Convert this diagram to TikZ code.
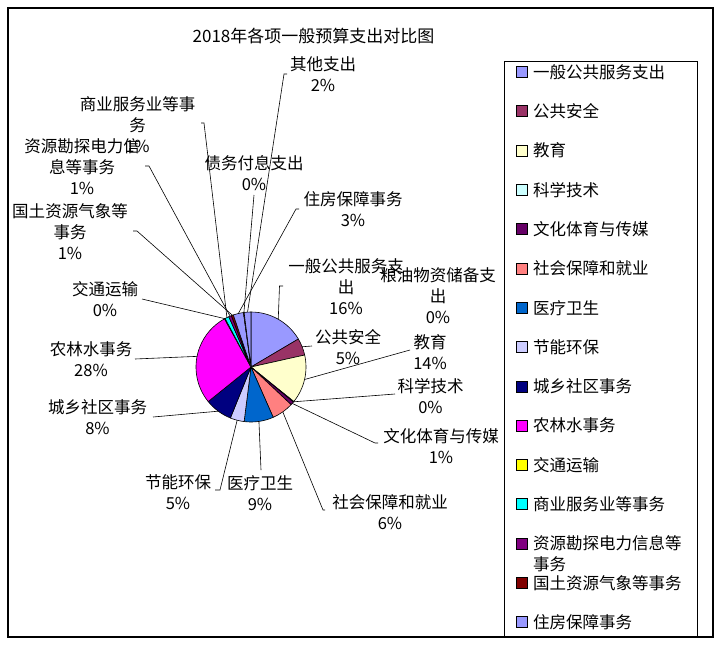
\documentclass[tikz,border=0pt]{standalone}
\usepackage{fontspec}
\setmainfont{Noto Sans CJK SC}
\usepackage{tikz}
\definecolor{lav}{HTML}{9999FF}
\definecolor{plum}{HTML}{993366}
\definecolor{ivory}{HTML}{FFFFCC}
\definecolor{icecyan}{HTML}{CCFFFF}
\definecolor{dkpurple}{HTML}{660066}
\definecolor{salmon}{HTML}{FF8080}
\definecolor{ocean}{HTML}{0066CC}
\definecolor{pale}{HTML}{CCCCFF}
\definecolor{navy}{HTML}{000080}
\definecolor{magenta}{HTML}{FF00FF}
\definecolor{yellow}{HTML}{FFFF00}
\definecolor{aqua}{HTML}{00FFFF}
\definecolor{purple}{HTML}{800080}
\definecolor{maroon}{HTML}{800000}
\tikzset{
  lbl/.style={align=center, inner sep=0pt, font=\fontsize{16.5}{21}\selectfont},
  ttl/.style={inner sep=0pt, font=\fontsize{17}{21}\selectfont},
  key/.style={draw, minimum size=11pt, inner sep=0pt, line width=0.8pt},
  ktext/.style={anchor=west, align=left, inner sep=0pt, font=\fontsize{16.5}{21}\selectfont},
  slice/.style={draw, line width=0.6pt},
  ldr/.style={line width=0.6pt}
}

\begin{document}
\begin{tikzpicture}[x=1pt, y=-1pt]
        \useasboundingbox (0,0) rectangle (722,646);
        \draw[line width=1.5pt] (8,8) rectangle (713,637);
        \draw (313.5, 36) node(title)[ttl]{2018年各项一般预算支出对比图};

        % pie
        \coordinate (O) at (251, 367);
        \filldraw[slice, fill=lav] (O) -- ++(90:55pt) arc[start angle=90, end angle=30.6, radius=55pt] -- cycle;
        \filldraw[slice, fill=plum] (O) -- ++(30.6:55pt) arc[start angle=30.6, end angle=12.6, radius=55pt] -- cycle;
        \filldraw[slice, fill=ivory] (O) -- ++(12.6:55pt) arc[start angle=12.6, end angle=-38.9, radius=55pt] -- cycle;
        \filldraw[slice, fill=icecyan] (O) -- ++(-38.9:55pt) arc[start angle=-38.9, end angle=-39.6, radius=55pt] -- cycle;
        \filldraw[slice, fill=dkpurple] (O) -- ++(-39.6:55pt) arc[start angle=-39.6, end angle=-43.2, radius=55pt] -- cycle;
        \filldraw[slice, fill=salmon] (O) -- ++(-43.2:55pt) arc[start angle=-43.2, end angle=-66.2, radius=55pt] -- cycle;
        \filldraw[slice, fill=ocean] (O) -- ++(-66.2:55pt) arc[start angle=-66.2, end angle=-97.2, radius=55pt] -- cycle;
        \filldraw[slice, fill=pale] (O) -- ++(-97.2:55pt) arc[start angle=-97.2, end angle=-112, radius=55pt] -- cycle;
        \filldraw[slice, fill=navy] (O) -- ++(-112:55pt) arc[start angle=-112, end angle=-141.1, radius=55pt] -- cycle;
        \filldraw[slice, fill=magenta] (O) -- ++(-141.1:55pt) arc[start angle=-141.1, end angle=-241.2, radius=55pt] -- cycle;
        \filldraw[slice, fill=yellow] (O) -- ++(-241.2:55pt) arc[start angle=-241.2, end angle=-241.9, radius=55pt] -- cycle;
        \filldraw[slice, fill=aqua] (O) -- ++(-241.9:55pt) arc[start angle=-241.9, end angle=-246.2, radius=55pt] -- cycle;
        \filldraw[slice, fill=purple] (O) -- ++(-246.2:55pt) arc[start angle=-246.2, end angle=-249.1, radius=55pt] -- cycle;
        \filldraw[slice, fill=maroon] (O) -- ++(-249.1:55pt) arc[start angle=-249.1, end angle=-251.3, radius=55pt] -- cycle;
        \filldraw[slice, fill=lav] (O) -- ++(-251.3:55pt) arc[start angle=-251.3, end angle=-262.1, radius=55pt] -- cycle;
        \filldraw[slice, fill=plum] (O) -- ++(-262.1:55pt) arc[start angle=-262.1, end angle=-262.4, radius=55pt] -- cycle;
        \filldraw[slice, fill=ivory] (O) -- ++(-262.4:55pt) arc[start angle=-262.4, end angle=-262.8, radius=55pt] -- cycle;
        \filldraw[slice, fill=lav] (O) -- ++(-262.8:55pt) arc[start angle=-262.8, end angle=-270, radius=55pt] -- cycle;

        % slice edges
        \coordinate (e-yb) at ([shift={(60.3:55pt)}]O);
        \coordinate (e-ga) at ([shift={(21.6:55pt)}]O);
        \coordinate (e-jy) at ([shift={(-13.15:55pt)}]O);
        \coordinate (e-kx) at ([shift={(-39.25:55pt)}]O);
        \coordinate (e-wh) at ([shift={(-41.4:55pt)}]O);
        \coordinate (e-sh) at ([shift={(-54.7:55pt)}]O);
        \coordinate (e-yl) at ([shift={(-81.7:55pt)}]O);
        \coordinate (e-jn) at ([shift={(-104.6:55pt)}]O);
        \coordinate (e-cx) at ([shift={(-126.55:55pt)}]O);
        \coordinate (e-nl) at ([shift={(-191.15:55pt)}]O);
        \coordinate (e-jt) at ([shift={(-241.55:55pt)}]O);
        \coordinate (e-sy) at ([shift={(-244.05:55pt)}]O);
        \coordinate (e-zy) at ([shift={(-247.65:55pt)}]O);
        \coordinate (e-gt) at ([shift={(-250.2:55pt)}]O);
        \coordinate (e-zf) at ([shift={(-256.7:55pt)}]O);
        \coordinate (e-zw) at ([shift={(-262.6:55pt)}]O);
        \coordinate (e-qt) at ([shift={(-266.4:55pt)}]O);

        % labels
        \draw (346, 287) node(yb)[lbl]{一般公共服务支\\出\\16\%};
        \draw (348, 347) node(ga)[lbl]{公共安全\\5\%};
        \draw (430, 352.5) node(jy)[lbl]{教育\\14\%};
        \draw (430.5, 396.5) node(kx)[lbl]{科学技术\\0\%};
        \draw (441, 446) node(wh)[lbl]{文化体育与传媒\\1\%};
        \draw (390, 512) node(sh)[lbl]{社会保障和就业\\6\%};
        \draw (260, 493) node(yl)[lbl]{医疗卫生\\9\%};
        \draw (178, 492) node(jn)[lbl]{节能环保\\5\%};
        \draw (97.5, 417.5) node(cx)[lbl]{城乡社区事务\\8\%};
        \draw (91, 359.5) node(nl)[lbl]{农林水事务\\28\%};
        \draw (105, 299.5) node(jt)[lbl]{交通运输\\0\%};
        \draw (137.5, 124.5) node(sy)[lbl]{商业服务业等事\\务\\1\%};
        \draw (82, 167) node(zy)[lbl]{资源勘探电力信\\息等事务\\1\%};
        \draw (70, 232) node(gt)[lbl]{国土资源气象等\\事务\\1\%};
        \draw (353, 209.5) node(zf)[lbl]{住房保障事务\\3\%};
        \draw (438, 296) node(ly)[lbl]{粮油物资储备支\\出\\0\%};
        \draw (254, 173.5) node(zw)[lbl]{债务付息支出\\0\%};
        \draw (323, 74.5) node(qt)[lbl]{其他支出\\2\%};

        % leader ends
        \coordinate (yb1) at (283, 286);  \coordinate (yb2) at (279.5, 286);
        \coordinate (ga1) at (312, 346);
        \coordinate (jy1) at (410, 350);
        \coordinate (kx1) at (395, 394);
        \coordinate (wh1) at (378, 443);  \coordinate (wh2) at (375, 443);
        \coordinate (sh1) at (325, 510);  \coordinate (sh2) at (323, 510);
        \coordinate (yl1) at (261, 470);
        \coordinate (jn1) at (215, 490);  \coordinate (jn2) at (220, 490);
        \coordinate (cx1) at (153, 417);
        \coordinate (nl1) at (135, 359);
        \coordinate (jt1) at (142, 299);
        \coordinate (sy1) at (201, 123);  \coordinate (sy2) at (204, 123);
        \coordinate (zy1) at (145, 166);  \coordinate (zy2) at (149, 166);
        \coordinate (gt1) at (133, 231);  \coordinate (gt2) at (137, 231);
        \coordinate (zf1) at (299, 209);  \coordinate (zf2) at (296, 209);
        \coordinate (zw1) at (254, 195);
        \coordinate (qt1) at (287, 74);   \coordinate (qt2) at (284, 74);

        \draw[ldr] (yb1) -- (yb2) -- (e-yb);
        \draw[ldr] (ga1) -- (e-ga);
        \draw[ldr] (jy1) -- (e-jy);
        \draw[ldr] (kx1) -- (e-kx);
        \draw[ldr] (wh1) -- (wh2) -- (e-wh);
        \draw[ldr] (sh1) -- (sh2) -- (e-sh);
        \draw[ldr] (yl1) -- (e-yl);
        \draw[ldr] (jn1) -- (jn2) -- (e-jn);
        \draw[ldr] (cx1) -- (e-cx);
        \draw[ldr] (nl1) -- (e-nl);
        \draw[ldr] (jt1) -- (e-jt);
        \draw[ldr] (sy1) -- (sy2) -- (e-sy);
        \draw[ldr] (zy1) -- (zy2) -- (e-zy);
        \draw[ldr] (gt1) -- (gt2) -- (e-gt);
        \draw[ldr] (zf1) -- (zf2) -- (e-zf);
        \draw[ldr] (zw1) -- (e-zw);
        \draw[ldr] (qt1) -- (qt2) -- (e-qt);

        % legend
        \draw[line width=1pt] (504, 61) rectangle (697, 637);
        \draw (521.5, 72) node(k1)[key, fill=lav]{} (533, 72) node(t1)[ktext]{一般公共服务支出};
        \draw (521.5, 111.3) node(k2)[key, fill=plum]{} (533, 111.3) node(t2)[ktext]{公共安全};
        \draw (521.5, 150.6) node(k3)[key, fill=ivory]{} (533, 150.6) node(t3)[ktext]{教育};
        \draw (521.5, 189.9) node(k4)[key, fill=icecyan]{} (533, 189.9) node(t4)[ktext]{科学技术};
        \draw (521.5, 229.2) node(k5)[key, fill=dkpurple]{} (533, 229.2) node(t5)[ktext]{文化体育与传媒};
        \draw (521.5, 268.5) node(k6)[key, fill=salmon]{} (533, 268.5) node(t6)[ktext]{社会保障和就业};
        \draw (521.5, 307.8) node(k7)[key, fill=ocean]{} (533, 307.8) node(t7)[ktext]{医疗卫生};
        \draw (521.5, 347.1) node(k8)[key, fill=pale]{} (533, 347.1) node(t8)[ktext]{节能环保};
        \draw (521.5, 386.4) node(k9)[key, fill=navy]{} (533, 386.4) node(t9)[ktext]{城乡社区事务};
        \draw (521.5, 425.7) node(k10)[key, fill=magenta]{} (533, 425.7) node(t10)[ktext]{农林水事务};
        \draw (521.5, 465) node(k11)[key, fill=yellow]{} (533, 465) node(t11)[ktext]{交通运输};
        \draw (521.5, 504.3) node(k12)[key, fill=aqua]{} (533, 504.3) node(t12)[ktext]{商业服务业等事务};
        \draw (521.5, 543.6) node(k13)[key, fill=purple]{} (533, 554.1) node(t13)[ktext]{资源勘探电力信息等\\事务};
        \draw (521.5, 582.9) node(k14)[key, fill=maroon]{} (533, 582.9) node(t14)[ktext]{国土资源气象等事务};
        \draw (521.5, 622.2) node(k15)[key, fill=lav]{} (533, 622.2) node(t15)[ktext]{住房保障事务};
    \end{tikzpicture}
\end{document}
